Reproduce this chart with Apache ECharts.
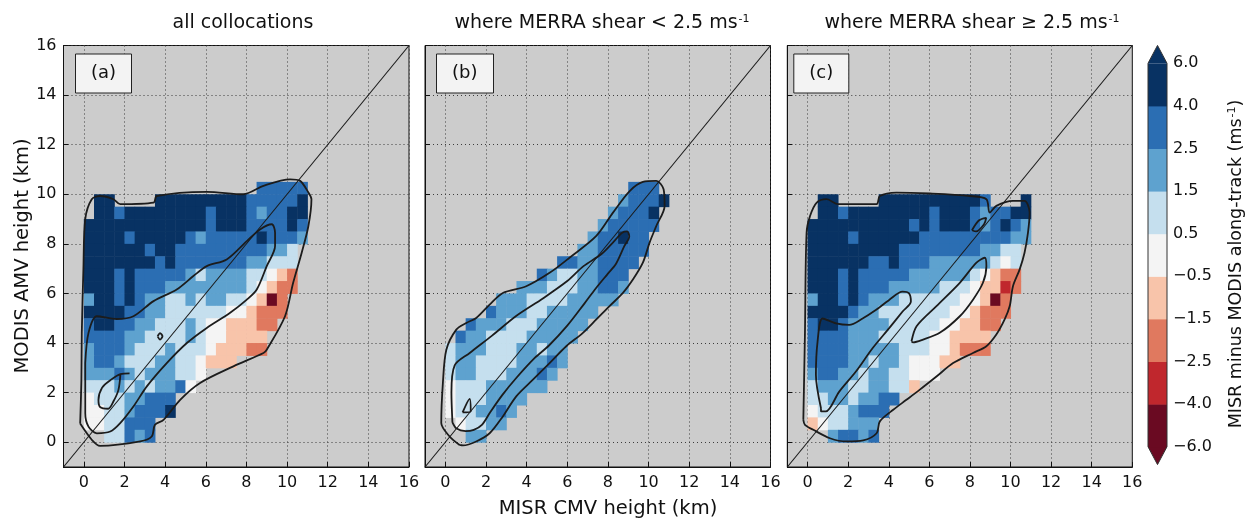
<!DOCTYPE html>
<html><head><meta charset="utf-8">
<script src="https://cdn.jsdelivr.net/npm/echarts@6/dist/echarts.min.js"></script>
<style>html,body{margin:0;padding:0;background:#fff}#c{width:1249px;height:524px}</style>
</head><body><div id="c"></div>
<script>
// ---------- data ----------
const panelTitles = ['all collocations', 'where MERRA shear < 2.5 ms', 'where MERRA shear \u2265 2.5 ms'];
const panelTags = ['(a)', '(b)', '(c)'];
const xTickLabels = ['0','2','4','6','8','10','12','14','16'];
const rowY = [10, 9.5, 9, 8.5, 8, 7.5, 7, 6.5, 6, 5.5, 5, 4.5, 4, 3.5, 3, 2.5, 2, 1.5, 1, 0.5, 0];
const cellSize = 0.5;
// colour classes: D R O P W L M B N  (values = representative value of each bin)
const classCodes = ['D','R','O','P','W','L','M','B','N'];
const classValues = [-5, -3.2, -2, -1, 0, 1, 2, 3.2, 5];
const levels = [-6, -4, -2.5, -1.5, -0.5, 0.5, 1.5, 2.5, 4, 6];
const levelLabels = ['\u22126.0','\u22124.0','\u22122.5','\u22121.5','\u22120.5','0.5','1.5','2.5','4.0','6.0'];
const binColors = ['#6a0a22','#c0272d','#e0795f','#f8c4aa','#f4f4f4','#c5dfee','#5ea2cf','#2b6eb3','#083263'];
const colorbarItems = [-1, 0, 1, 2, 3, 4, 5, 6, 7, 8, 9];

const cellsA = [
".................BBBBB",
".NN....NNNNNNNNNBBBBBN",
".NNBNNNNNNNNBNNNBMBBNN",
"NNNNNNNNNNNNBNNNBBBBNB",
"NNNNBNNNNNBMBBBBBNBBBM",
"NNNNNNBNNBBBBBBBBBMML.",
"NNNNNNNBNBBBBBBBMMLLL.",
"NNNBNBBBBBMLMMMMLLWPO.",
"NNNBNBBBMMMMMMMMLWPOO.",
"MNNBNBMMLLMLMMLLWPDO..",
"NNNNBBMMLLLLLLWWPOOO..",
"BNNBBMMLLLMLWWPPPOO...",
"BBBBMMLLLLMLWWPPPP....",
"MBBBMLLLMLLLWPPPOO....",
"MBBMLLLMMLLWPPP.......",
"MMMBMLMMMLLW..........",
"LLLMLMLMMBW...........",
"WLLLMMBBB.............",
"WWLLMBBBN.............",
"WWLLBBB...............",
"..LLBMB..............."
];
const cellsB = [
"..................BBB.",
".................MBBBN",
"................MBBBN.",
"...............MBBBBB.",
"..............MBBNBB..",
".............MMBBBBB..",
"...........BBMMBBBB...",
".........BMLLMMBBB....",
".......MMMLLLMMBBM....",
".....MMMLLLLMMMMM.....",
"....BMMMLLMMMMM.......",
"..BMMMLLLMMMMM........",
".BMMLLLLMMMMM.........",
"LMMMLLLMMLMM..........",
"LMMLLLLMMMBM..........",
"LMMLLLMMMBM...........",
"WLLLMMMMMM............",
"WLLLMMMM..............",
"WLLMMBM...............",
".WLLMM................",
"..MM.................."
];
const cellsC = [
"......................",
".NN....NNNNNNNNNNB...N",
".NNBNNNNNNNNBNNNBMBBNN",
"NNNNNNNNNNBNBNNNBMBNBM",
"NNNNBNNNNNNBBBBBBBBBMM",
"NNNNNNNNNBBBBBBBBMMLL.",
"NNNNNNBBNBBBMMMMMMLWL.",
"NNNBNBBBBBMMMMMMLWPOO.",
"NNNBNBBBMMMMMLLLWPPRO.",
"MNNBNBMMMLLLLLLWWPDO..",
"NNNNBMMLLLLLLLWWPOOO..",
"BNNBMMMMLLLLLWWPPOO...",
"BBBBMMMLLLLLWWPPPP....",
"BBBBMMMMMLLLWWPOOO....",
"BBBBMMLMMLWWWPP.......",
"MBBMMLMMLLWWW.........",
"LMMMLLMMLLP...........",
"LLMMLMMBB.............",
"WLLLMBBB..............",
"PWLLMMM...............",
"..MBBMB..............."
];

const diagonal = [[-1, -1], [16, 16]];

const contoursA = [
 [[-0.18,0.75],[-0.12,2.5],[-0.1,4.4],[-0.02,7],[0.07,9.0],[0.39,9.8],[0.8,9.93],[1.46,9.8],[1.79,9.6],[3.43,9.66],[3.59,9.93],[6.05,10.1],[7.85,10.0],[8.84,10.34],[10.15,10.6],[10.64,10.54],[11.05,10.07],[11.2,9.8],[11.05,8.72],[10.72,7.64],[10.3,6.43],[9.9,5.08],[9.0,3.73],[8.84,3.6],[7.36,3.06],[5.72,2.39],[4.74,1.71],[3.92,0.9],[3.5,0.7],[3.34,0.23],[2.77,0.03],[0.8,-0.15],[0.39,0.1],[-0.18,0.75]],
 [[0.07,3.19],[0.23,4.41],[0.64,5.08],[1.62,4.97],[2.44,5.08],[3.43,5.69],[4.57,6.16],[5.39,6.7],[6.05,7.1],[7.03,7.37],[8.02,8.11],[8.67,8.58],[9.25,8.79],[9.41,8.45],[9.41,7.91],[9.0,7.1],[8.51,6.16],[8.02,5.75],[7.2,5.22],[6.05,4.61],[5.07,4.0],[4.08,3.19],[3.1,2.25],[2.44,1.44],[1.79,0.77],[1.3,0.43],[0.64,0.36],[0.23,0.63],[0.07,1.17],[0.07,3.19]],
 [[2.25,2.78],[1.8,2.75],[1.3,2.5],[0.9,2.2],[0.72,1.7],[0.8,1.42],[1.2,1.35],[1.46,1.65],[1.7,2.1],[1.8,2.72]],
 [[3.63,4.27],[3.75,4.4],[3.87,4.27],[3.75,4.14],[3.63,4.27]]
];
const contoursB = [
 [[0.7,-0.11],[0.21,0.23],[-0.2,0.77],[-0.12,2.39],[0.05,3.73],[0.54,4.54],[1.03,4.81],[1.52,5.01],[2.18,5.55],[2.83,6.02],[3.98,6.29],[5.13,6.83],[6.11,7.44],[7.43,8.32],[8.25,9.26],[9.07,10.13],[9.72,10.5],[10.38,10.54],[10.74,10.2],[10.79,9.53],[10.38,8.72],[10.05,8.05],[9.72,7.24],[9.23,6.56],[8.74,6.02],[8.08,5.49],[7.43,4.95],[6.77,4.41],[5.95,3.87],[5.13,3.19],[4.31,2.52],[3.49,1.85],[2.83,1.04],[2.18,0.36],[1.52,0.03],[0.87,-0.13],[0.7,-0.11]],
 [[0.35,0.8],[0.3,2.0],[0.46,3.1],[1.2,3.6],[2.3,4.3],[3.5,5.1],[4.8,5.8],[6.0,6.5],[6.8,7.1],[7.7,7.6],[8.3,8.1],[8.7,8.45],[8.95,8.5],[9.05,8.3],[8.8,7.9],[8.4,7.2],[8.0,6.8],[7.4,6.2],[6.85,5.6],[6.0,4.7],[5.1,3.9],[4.4,3.4],[3.5,2.6],[2.8,1.9],[2.2,1.2],[1.8,0.7],[1.4,0.5],[1.0,0.45],[0.55,0.55],[0.35,0.8]],
 [[0.85,1.2],[1.25,1.25],[1.2,1.75],[0.85,1.2]]
];
const contoursC = [
 [[-0.21,0.9],[-0.13,4.41],[-0.05,8.45],[0.12,9.12],[0.45,9.66],[0.94,9.8],[1.51,9.6],[3.4,9.6],[3.56,9.93],[4.38,10.07],[6.02,10.03],[7.99,9.93],[8.81,9.8],[8.97,9.26],[9.3,9.53],[10.12,9.73],[10.69,9.73],[10.94,9.26],[10.86,8.45],[10.69,7.64],[10.45,6.97],[10.12,6.29],[9.96,5.49],[9.71,4.95],[9.3,4.34],[8.81,3.87],[8.15,3.6],[7.17,3.19],[6.35,2.65],[5.53,2.12],[4.87,1.71],[4.22,1.31],[3.56,0.84],[3.4,0.36],[2.74,0.07],[1.92,0.03],[1.1,0.16],[0.28,0.5],[-0.13,0.7],[-0.21,0.9]],
 [[0.66,1.37],[0.41,2.71],[0.49,4.05],[0.74,4.99],[1.4,4.79],[2.05,4.73],[2.71,4.99],[3.36,5.33],[4.02,5.74],[4.68,6.07],[5.0,6.0],[5.09,5.67],[4.68,5.27],[4.02,4.6],[3.2,3.79],[2.38,2.85],[1.56,2.04],[0.9,1.24],[0.66,1.24],[0.66,1.37]],
 [[5.12,4.07],[5.37,4.68],[6.35,5.49],[7.5,6.43],[8.32,7.24],[8.73,7.44],[8.81,7.1],[8.64,6.43],[8.15,5.75],[7.5,5.08],[6.51,4.41],[5.69,4.14],[5.2,4.03],[5.12,4.07]],
 [[8.1,8.55],[8.45,8.95],[8.8,9.05],[8.7,8.8],[8.3,8.5],[8.1,8.55]]
];

// ---------- helpers ----------
function toCells(rows) {
  const out = [];
  rows.forEach((row, r) => {
    for (let c = 0; c < row.length; c++) {
      const k = classCodes.indexOf(row[c]);
      if (k >= 0) out.push([c * cellSize, rowY[r], classValues[k]]);
    }
  });
  return out;
}
function colorFor(v) {
  for (let i = 0; i < binColors.length; i++) {
    if (v < levels[i + 1]) return binColors[i];
  }
  return binColors[binColors.length - 1];
}
function renderCell(params, api) {
  const x = api.value(0), y = api.value(1);
  const a = api.coord([x, y + cellSize]);
  const b = api.coord([x + cellSize, y]);
  return { type: 'rect', shape: { x: a[0], y: a[1], width: b[0] - a[0] + 0.5, height: b[1] - a[1] + 0.5 },
           style: { fill: colorFor(api.value(2)) } };
}
const EXT = 0.42;
function renderBar(params, api) {
  const k = api.value(0);
  if (k === -1) {
    const p = [api.coord([0, 0]), api.coord([1, 0]), api.coord([0.5, -EXT])];
    return { type: 'polygon', shape: { points: p }, style: { fill: binColors[0] } };
  }
  if (k === levels.length - 1) {
    const p = [api.coord([0, k]), api.coord([1, k]), api.coord([0.5, k + EXT])];
    return { type: 'polygon', shape: { points: p }, style: { fill: binColors[binColors.length - 1] } };
  }
  const a = api.coord([0, k + 1]), b = api.coord([1, k]);
  return { type: 'rect', shape: { x: a[0], y: a[1], width: b[0] - a[0], height: b[1] - a[1] + 0.5 }, style: { fill: binColors[k] } };
}
function renderOutline(params, api) {
  const n = levels.length - 1;
  const pts = [[0.5, -EXT], [1, 0], [1, n], [0.5, n + EXT], [0, n], [0, 0]].map(p => api.coord(p));
  return { type: 'polygon', shape: { points: pts }, style: { fill: 'none', stroke: '#333', lineWidth: 1 } };
}

const FONT = 'DejaVu Sans';
const grids = [
  { left: 63.5, top: 45.5, width: 345.5, height: 421.5 },
  { left: 425, top: 45.5, width: 345.5, height: 421.5 },
  { left: 787.3, top: 45.5, width: 345, height: 421.5 }
].map(g => Object.assign(g, { show: true, backgroundColor: '#cccccc', borderColor: '#111', borderWidth: 1, containLabel: false }));
grids.push({ left: 1148, top: 63.3, width: 19, height: 383.4 });

function tickFmt(v) { return xTickLabels.indexOf(String(v)) >= 0 ? String(v) : ''; }
function mkAxis(i, showLabels) {
  return {
    gridIndex: i, type: 'value', min: -1, max: 16, minInterval: 2, maxInterval: 2,
    axisLine: { show: true, onZero: false, lineStyle: { color: '#111', width: 1 } },
    axisTick: { show: true, inside: true, length: 5, lineStyle: { color: '#111' } },
    axisLabel: { show: showLabels, color: '#111', fontSize: 16, fontFamily: FONT, margin: 8, formatter: tickFmt },
    splitLine: { show: true, lineStyle: { color: '#3c3c3c', type: [1, 3], width: 1 } }
  };
}
const xAxes = [mkAxis(0, true), mkAxis(1, true), mkAxis(2, true),
  { gridIndex: 3, type: 'value', min: 0, max: 1, show: false }];
const yAxes = [mkAxis(0, true), mkAxis(1, false), mkAxis(2, false),
  { gridIndex: 3, type: 'value', min: 0, max: 9, interval: 1, position: 'right',
    axisLine: { show: false }, axisTick: { show: false }, splitLine: { show: false },
    axisLabel: { color: '#111', fontSize: 16, fontFamily: FONT, margin: 6, formatter: v => levelLabels[v] } }];
yAxes[0].axisLabel.margin = 7;

const series = [];
[cellsA, cellsB, cellsC].forEach((cells, i) => {
  series.push({ type: 'custom', xAxisIndex: i, yAxisIndex: i, renderItem: renderCell, data: toCells(cells),
    encode: { x: 0, y: 1 }, z: 2, silent: true });
  series.push({ type: 'line', xAxisIndex: i, yAxisIndex: i, data: diagonal, showSymbol: false, symbol: 'none',
    lineStyle: { color: '#1a1a1a', width: 1.1 }, z: 4, silent: true });
});
[contoursA, contoursB, contoursC].forEach((list, i) => {
  list.forEach(c => series.push({ type: 'line', xAxisIndex: i, yAxisIndex: i, data: c, showSymbol: false, symbol: 'none',
    smooth: 0.3, lineStyle: { color: '#1c1c1c', width: 1.8 }, z: 3, silent: true }));
});
series.push({ type: 'custom', xAxisIndex: 3, yAxisIndex: 3, renderItem: renderBar, clip: false,
  data: colorbarItems.map(k => [k]), encode: { x: -1, y: 0 }, silent: true });
series.push({ type: 'custom', xAxisIndex: 3, yAxisIndex: 3, renderItem: renderOutline, clip: false,
  data: [[0]], silent: true, z: 5 });

const tagLefts = [75, 436, 793.3];
const titles = panelTags.map((t, i) => ({
  text: t, left: tagLefts[i], top: 53.5, padding: [11, 16],
  backgroundColor: '#f3f3f3', borderColor: '#222', borderWidth: 1,
  textStyle: { fontSize: 18, fontWeight: 'normal', color: '#111', fontFamily: FONT }
}));

const supRich = (size) => ({
  m: { fontSize: size, fontFamily: FONT, fill: '#111' },
  s: { fontSize: Math.round(size * 0.6), fontFamily: FONT, fill: '#111', verticalAlign: 'top', padding: [0, 0, 0, 1] }
});
const graphic = [
  { type: 'text', x: 243, y: 23, style: { text: panelTitles[0], font: '19px "DejaVu Sans"', fill: '#111', align: 'center', verticalAlign: 'middle' } },
  { type: 'text', x: 602, y: 23, style: { text: '{m|' + panelTitles[1] + '}{s|-1}', rich: supRich(19), align: 'center', verticalAlign: 'middle' } },
  { type: 'text', x: 972, y: 23, style: { text: '{m|' + panelTitles[2] + '}{s|-1}', rich: supRich(19), align: 'center', verticalAlign: 'middle' } },
  { type: 'text', x: 23, y: 256, rotation: Math.PI / 2, style: { text: 'MODIS AMV height (km)', font: '19.5px "DejaVu Sans"', fill: '#111', align: 'center', verticalAlign: 'middle' } },
  { type: 'text', x: 608, y: 509, style: { text: 'MISR CMV height (km)', font: '19.5px "DejaVu Sans"', fill: '#111', align: 'center', verticalAlign: 'middle' } },
  { type: 'text', x: 1236, y: 264, rotation: Math.PI / 2, style: { text: '{m|MISR minus MODIS along-track (ms}{s|-1}{m|)}', rich: supRich(17.5), align: 'center', verticalAlign: 'middle' } }
];

const chart = echarts.init(document.getElementById('c'), null, { renderer: 'canvas' });
chart.setOption({
  animation: false, backgroundColor: '#ffffff',
  textStyle: { fontFamily: FONT },
  title: titles, grid: grids, xAxis: xAxes, yAxis: yAxes, series: series, graphic: graphic
});
</script></body></html>
